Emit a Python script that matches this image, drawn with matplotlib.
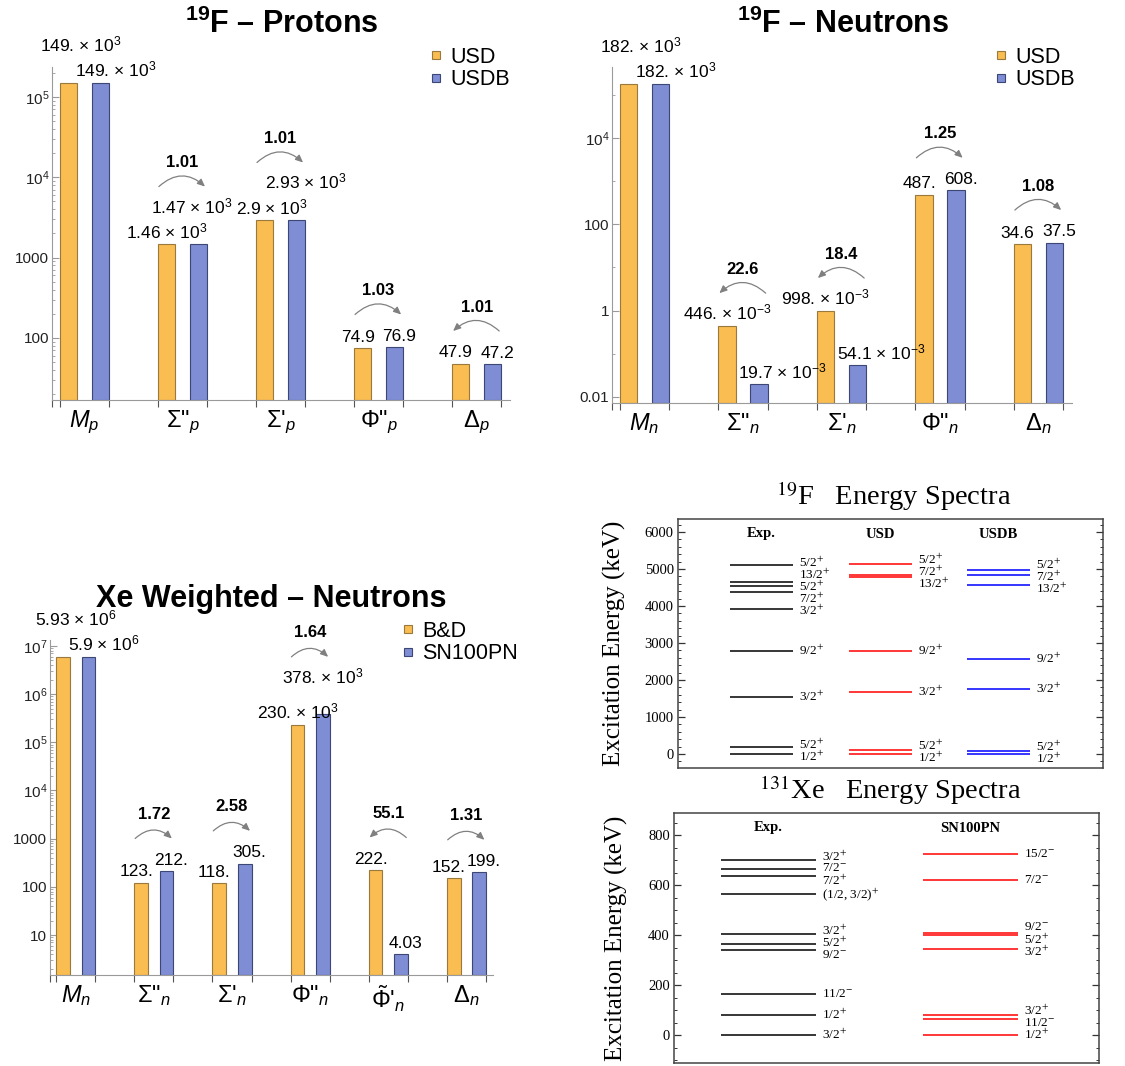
import numpy as np
import matplotlib
matplotlib.use('Agg')
import matplotlib.pyplot as plt
import matplotlib.transforms as mtransforms
from matplotlib.lines import Line2D
from matplotlib.ticker import LogLocator, FuncFormatter, NullFormatter, MultipleLocator

plt.rcParams['font.family'] = ['Liberation Sans', 'DejaVu Sans']
plt.rcParams['mathtext.fontset'] = 'custom'
plt.rcParams['mathtext.rm'] = 'Liberation Sans'
plt.rcParams['mathtext.it'] = 'Liberation Sans:italic'
plt.rcParams['mathtext.bf'] = 'Liberation Sans:bold'

# ---- 19F protons
fp_names = [r'$M_p$', 'Σ"$_p$', "Σ'$_p$", 'Φ"$_p$', 'Δ$_p$']
fp_usd = [149e3, 1.46e3, 2.90e3, 74.9, 47.9]
fp_usdb = [149e3, 1.47e3, 2.93e3, 76.9, 47.2]
fp_ratio = [None, 1.01, 1.01, 1.03, 1.01]

# ---- 19F neutrons
fn_names = [r'$M_n$', 'Σ"$_n$', "Σ'$_n$", 'Φ"$_n$', 'Δ$_n$']
fn_usd = [182e3, 0.446, 0.998, 487, 34.6]
fn_usdb = [182e3, 0.0197, 0.0541, 608, 37.5]
fn_ratio = [None, 22.6, 18.4, 1.25, 1.08]

# ---- Xe weighted neutrons
xe_names = [r'$M_n$', 'Σ"$_n$', "Σ'$_n$", 'Φ"$_n$', r"$\tilde{\Phi}$'$_n$", 'Δ$_n$']
xe_bd = [5.93e6, 123, 118, 230e3, 222, 152]
xe_sn = [5.90e6, 212, 305, 378e3, 4.03, 199]
xe_ratio = [None, 1.72, 2.58, 1.64, 55.1, 1.31]

# ---- 19F spectra (keV)
f19_exp_E = [0, 197, 1554, 2780, 3908, 4378, 4550, 4648, 5107]
f19_exp_J = ['1/2+', '5/2+', '3/2+', '9/2+', '3/2+', '7/2+', '5/2+', '13/2+', '5/2+']
f19_usd_E = [0, 100, 1682, 2788, 4784, 4847, 5126]
f19_usd_J = ['1/2+', '5/2+', '3/2+', '9/2+', '13/2+', '7/2+', '5/2+']
f19_usdb_E = [0, 75, 1754, 2581, 4577, 4847, 4964]
f19_usdb_J = ['1/2+', '5/2+', '3/2+', '9/2+', '13/2+', '7/2+', '5/2+']

# ---- 131Xe spectra (keV)
xe_exp_E = [0, 80, 164, 341, 365, 405, 565, 637, 667, 700]
xe_exp_J = ['3/2+', '1/2+', '11/2-', '9/2-', '5/2+', '3/2+', '(1/2, 3/2)+', '7/2+', '7/2-', '3/2+']
xe_sn_E = [0, 67, 80, 344, 400, 408, 623, 726]
xe_sn_J = ['1/2+', '11/2-', '3/2+', '3/2+', '5/2+', '9/2-', '7/2-', '15/2-']

W, H = 1125, 1066
fig = plt.figure(figsize=(W / 100, H / 100), dpi=100)

ORANGE, ORANGE_EDGE = '#F9BD52', '#9A7A3C'
BLUE, BLUE_EDGE = '#7E8DD4', '#3D4775'
value_texts = []


def px_axes(l, t, r, b):
    return fig.add_axes([l / W, 1 - b / H, (r - l) / W, (b - t) / H])


def fmt_value(v):
    if 1 <= v < 1000:
        s = f'{v:.3g}'
        return s if '.' in s else s + '.'
    e = int(np.floor(np.log10(v) / 3)) * 3
    s = f'{v / 10.0**e:.3g}'
    if '.' not in s:
        s += '.'
    return s + ' × 10$^{%d}$' % e


def log_fmt(v, pos):
    if v >= 1e4:
        return r'$10^{%d}$' % round(np.log10(v))
    if v >= 1:
        return '%d' % round(v)
    return '%g' % v


def bar_panel(ax, names, a, b, ratios, ylim, series, leg_xy, sparse=False):
    x = np.arange(len(names))
    off, w = 0.163, 0.175
    bot = ylim[0]
    ax.set_yscale('log')
    ax.bar(x - off, np.subtract(a, bot), w, bottom=bot, color=ORANGE, edgecolor=ORANGE_EDGE, lw=0.8, zorder=2)
    ax.bar(x + off, np.subtract(b, bot), w, bottom=bot, color=BLUE, edgecolor=BLUE_EDGE, lw=0.8, zorder=2)
    ax.set_ylim(ylim)
    ax.set_xlim(-0.33, len(names) - 1 + 0.34)

    for xi, va_, vb_, r in zip(x, a, b, ratios):
        la, lb = fmt_value(va_), fmt_value(vb_)
        wide = '×' in la and '×' in lb
        ra = rb = False
        if wide and max(va_, vb_) / min(va_, vb_) < 5:
            if va_ >= vb_:
                ra = True
            else:
                rb = True
        # horizontal nudges, roughly as the automatic label placement does
        dxa, dxb = (-3.5, 3.5) if not ('×' in la or '×' in lb) else (0, 0)
        if xi == 0 and wide:
            dxa, dxb = 9, 11
        if '×' in lb and va_ > 5 * vb_:
            dxb = 17
        if '×' in la and vb_ > 5 * va_:
            dxa = -17
        ta = ax.annotate(la, (xi - off, va_), xytext=(dxa, 4.5 + 18 * ra), textcoords='offset points',
                         ha='center', va='baseline', fontsize=12.5, annotation_clip=False)
        tb = ax.annotate(lb, (xi + off, vb_), xytext=(dxb, 4.5 + 18 * rb), textcoords='offset points',
                         ha='center', va='baseline', fontsize=12.5, annotation_clip=False)
        value_texts.append((ax, ta, tb))
        if r is None:
            continue
        top = max(va_, vb_)
        base = 4.5 + 18 * (ra or rb)
        tr = mtransforms.offset_copy(ax.transData, fig=fig, y=base + 19, units='points')
        l2r = vb_ > va_
        x0, x1 = xi - 0.24, xi + 0.23
        start, end = (x0, x1) if l2r else (x1, x0)
        ax.annotate('', xy=(end, top), xytext=(start, top), xycoords=tr, textcoords=tr,
                    annotation_clip=False,
                    arrowprops=dict(arrowstyle='-|>,head_length=0.45,head_width=0.2', color='#808080',
                                    lw=0.9, shrinkA=0, shrinkB=0,
                                    connectionstyle='arc3,rad=%g' % (-0.45 if l2r else 0.45)))
        ax.annotate(f'{r:.3g}', (xi, top), xytext=(0, base + 33), textcoords='offset points',
                    ha='center', va='baseline', fontsize=12, fontweight='bold', annotation_clip=False)

    # axes styling
    for s in ['top', 'right']:
        ax.spines[s].set_visible(False)
    for s in ['left', 'bottom']:
        ax.spines[s].set_color('#9a9a9a')
        ax.spines[s].set_linewidth(0.8)
    if sparse:
        ax.yaxis.set_major_locator(LogLocator(base=100, numticks=20))
        ax.yaxis.set_minor_locator(LogLocator(base=100, subs=[10], numticks=20))
    else:
        ax.yaxis.set_major_locator(LogLocator(base=10, numticks=20))
        ax.yaxis.set_minor_locator(LogLocator(base=10, subs=np.arange(2, 10), numticks=20))
    ax.yaxis.set_major_formatter(FuncFormatter(log_fmt))
    ax.yaxis.set_minor_formatter(NullFormatter())
    ax.tick_params(axis='y', which='major', direction='in', length=5, width=0.8, color='#9a9a9a',
                   labelsize=11, labelcolor='#222222', pad=2)
    ax.tick_params(axis='y', which='minor', direction='in', length=2.5, width=0.6, color='#9a9a9a')
    ax.set_xticks(x)
    ax.set_xticklabels(names, fontsize=17)
    edges = np.concatenate([[ax.get_xlim()[0]], x - off - w / 2, x + off + w / 2])
    ax.set_xticks(edges, minor=True)
    ax.tick_params(axis='x', which='major', length=0, pad=6)
    ax.tick_params(axis='x', which='minor', direction='out', length=5, width=0.8, color='#555555')

    handles = [Line2D([], [], ls='none', marker='s', ms=5.5, mfc=ORANGE, mec=ORANGE_EDGE, mew=0.8),
               Line2D([], [], ls='none', marker='s', ms=5.5, mfc=BLUE, mec=BLUE_EDGE, mew=0.8)]
    ax.legend(handles, series, loc='upper left', bbox_to_anchor=(leg_xy[0] / W, 1 - leg_xy[1] / H),
              bbox_transform=fig.transFigure, frameon=False, fontsize=15.5, handlelength=0.6,
              handletextpad=0.35, labelspacing=0.05, borderpad=0, borderaxespad=0)


def untangle_labels():
    # push apart value labels of neighbouring groups that collide
    fig.canvas.draw()
    renderer = fig.canvas.get_renderer()
    by_ax = {}
    for ax, ta, tb in value_texts:
        by_ax.setdefault(ax, []).append((ta, tb))
    for ax, pairs in by_ax.items():
        for (a1, b1), (a2, b2) in zip(pairs[:-1], pairs[1:]):
            left, right = b1, a2
            e1 = left.get_window_extent(renderer)
            e2 = right.get_window_extent(renderer)
            ov_x = e1.x1 - e2.x0
            ov_y = min(e1.y1, e2.y1) - max(e1.y0, e2.y0)
            if ov_x > 0 and ov_y > 0:
                shift = (ov_x + 4) / 2 * 72 / fig.dpi
                for t, sgn in ((left, -1), (right, 1)):
                    ox, oy = t.xyann
                    t.xyann = (ox + sgn * shift, oy)
                rx, ry = b2.xyann
                b2.xyann = (rx + shift * 1.3, ry)


def spin_tex(s):
    return s[:-1] + '$^{' + s[-1] + '}$'


def spread(levels, gap, iters=300):
    order = np.argsort(levels)
    pos = np.array(levels, float)[order]
    for _ in range(iters):
        for i in range(len(pos) - 1):
            d = pos[i + 1] - pos[i]
            if d < gap:
                s = (gap - d) / 2
                pos[i] -= s
                pos[i + 1] += s
    out = np.empty_like(pos)
    out[order] = pos
    return out


def spectra_panel(ax, columns, ylim, major, minor, width, height_px, label_x):
    ax.set_xlim(0, 1)
    ax.set_ylim(ylim)
    gap = 12 * (ylim[1] - ylim[0]) / height_px
    hdr_tr = mtransforms.blended_transform_factory(ax.transData, ax.transAxes)
    for header, E, J, color, x0 in columns:
        ax.hlines(E, x0, x0 + width, color=color, lw=1.1)
        for p, s in zip(spread(E, gap), J):
            ax.text(x0 + width + 0.014, p, spin_tex(s), family='Liberation Serif', math_fontfamily='stix',
                    fontsize=9.5, ha='left', va='center')
        ax.text(x0 + width / 2, 1 - 15 / height_px, header, transform=hdr_tr, family='Liberation Serif',
                fontweight='bold', fontsize=10.5, ha='center', va='center')
    ax.set_xticks([])
    ax.yaxis.set_major_locator(MultipleLocator(major))
    ax.yaxis.set_minor_locator(MultipleLocator(minor))
    ax.tick_params(axis='y', which='both', direction='in', left=True, right=True, color='#333333')
    ax.tick_params(axis='y', which='major', length=5, width=0.9, labelsize=10.5, pad=3)
    ax.tick_params(axis='y', which='minor', length=2.5, width=0.7)
    for lab in ax.get_yticklabels():
        lab.set_family('Liberation Serif')
    for s in ax.spines.values():
        s.set_color('#444444')
        s.set_linewidth(1.1)
    ax.set_ylabel('Excitation Energy (keV)', family='Liberation Serif', fontsize=18)
    ax.yaxis.set_label_coords(label_x, 0.5)


# ---------------- bar charts
ax1 = px_axes(52, 67, 510, 400)
bar_panel(ax1, fp_names, fp_usd, fp_usdb, fp_ratio, (16.9, 2.36e5), ['USD', 'USDB'], (430, 47))
fig.text(282 / W, 1 - 33 / H, r'$^{\mathbf{19}}$F – Protons', fontsize=22, fontweight='bold',
         ha='center', va='baseline')

ax2 = px_axes(612, 67, 1072, 403)
bar_panel(ax2, fn_names, fn_usd, fn_usdb, fn_ratio, (0.00726, 4.4e5), ['USD', 'USDB'], (995, 47), sparse=True)
fig.text(843 / W, 1 - 33 / H, r'$^{\mathbf{19}}$F – Neutrons', fontsize=22, fontweight='bold',
         ha='center', va='baseline')

ax3 = px_axes(50, 640, 493, 975)
bar_panel(ax3, xe_names, xe_bd, xe_sn, xe_ratio, (1.48, 1.33e7), ['B&D', 'SN100PN'], (402, 621))
fig.text(271 / W, 1 - 607 / H, 'Xe Weighted – Neutrons', fontsize=22, fontweight='bold',
         ha='center', va='baseline')

# ---------------- energy spectra
ax4 = px_axes(678, 519, 1103, 768)
spectra_panel(ax4, [('Exp.', f19_exp_E, f19_exp_J, 'black', 0.122),
                    ('USD', f19_usd_E, f19_usd_J, 'red', 0.402),
                    ('USDB', f19_usdb_E, f19_usdb_J, 'blue', 0.680)],
              (-378, 6351), 1000, 200, 0.149, 249, -0.122)
fig.text(894 / W, 1 - 505 / H, r'$^{19}$F   Energy Spectra', family='Liberation Serif',
         math_fontfamily='stix', fontsize=20.5, ha='center', va='baseline')

ax5 = px_axes(674, 813, 1099, 1063)
spectra_panel(ax5, [('Exp.', xe_exp_E, xe_exp_J, 'black', 0.111),
                    ('SN100PN', xe_sn_E, xe_sn_J, 'red', 0.586)],
              (-111, 890), 200, 50, 0.223, 250, -0.108)
fig.text(890 / W, 1 - 799 / H, r'$^{131}$Xe   Energy Spectra', family='Liberation Serif',
         math_fontfamily='stix', fontsize=20.5, ha='center', va='baseline')

untangle_labels()
fig.savefig('out.png', dpi=100)
